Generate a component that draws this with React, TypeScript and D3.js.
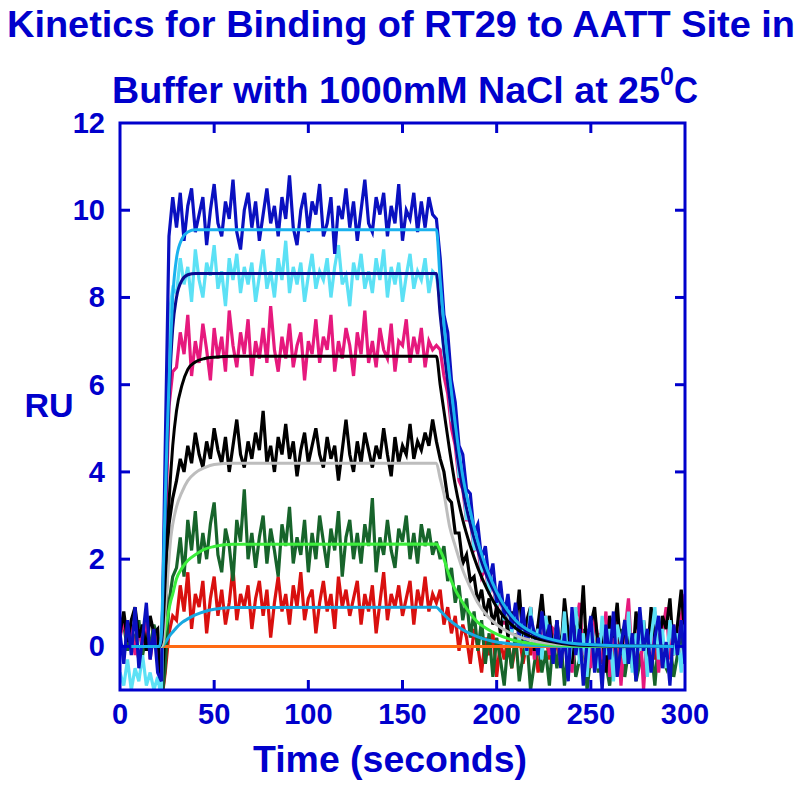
import React from "react";
import * as d3 from "d3";

// ---- Data (sampled every 2 s from t = 0 to 300) ----
const SAMPLE_STEP = 2;

const blueData = [
  0.3, -0.4, 0.6, -0.2, 0.9, -0.5, 0.2, 1.0, -0.3, 0.4, -0.6,
  -0.8, 4.5, 9.4, 10.3,
  9.6, 10.4, 9.3, 10.1, 10.5, 9.5, 9.9, 10.3, 9.2, 10.0,
  10.6, 9.7, 9.4, 10.2, 9.8, 10.7, 9.5, 9.1, 10.0, 10.4,
  9.6, 10.2, 9.3, 9.9, 10.5, 9.7, 10.1, 9.4, 10.3, 9.8,
  10.8, 9.6, 9.2, 10.0, 10.4, 9.5, 10.2, 9.9, 10.6, 9.4,
  9.7, 10.3, 9.0, 10.1, 9.8, 10.5, 9.6, 10.2, 9.3, 10.0,
  10.7, 9.7, 9.5, 10.3, 9.9, 10.4, 9.4, 10.1, 9.7, 10.6,
  9.3, 10.0, 9.8, 10.4, 9.5, 10.2, 9.6, 10.3, 9.9,
  9.8,
  8.9, 7.6, 7.2, 6.1, 5.6, 4.6, 4.4, 3.6, 3.5, 2.6,
  2.8, 2.0, 2.3, 1.5, 1.9, 1.0, 1.5, 0.7, 1.2, 0.4,
  1.0, 0.2, 0.9, -0.1, 0.7, 0.3, -0.2, 0.8, 0.0, 0.5, -0.4,
  0.6, -0.5, 0.3, -0.8, 0.9, -0.2, 0.4, -0.9, 0.1, 0.7,
  -0.6, 0.2, -1.0, 0.5, -0.3, 0.8, -0.7, 0.0, 0.6, -0.4,
  0.3, -0.8, 0.9, -0.1, 0.4, -0.6, 0.2, 0.7, -0.5, 0.1,
  -0.9, 0.5, -0.2, 0.6, -0.4,
];

const cyanData = [
  -0.6, -0.9, -0.3, -1.0, -0.5, -0.8, -0.2, -0.9, -0.6, -1.0, -0.7,
  -1.2, 3.5, 7.6, 8.2,
  8.1, 8.9, 8.3, 8.7, 7.9, 9.1, 8.4, 8.0, 8.8, 8.5,
  9.2, 8.2, 8.6, 7.8, 8.9, 8.4, 9.0, 8.1, 8.7, 8.3,
  8.8, 7.9, 8.5, 9.1, 8.2, 8.6, 8.0, 8.9, 8.4, 9.3,
  8.1, 8.7, 8.3, 8.8, 7.9, 8.5, 9.0, 8.2, 8.6, 8.4,
  8.9, 8.0, 8.7, 9.2, 8.3, 8.5, 7.8, 8.8, 8.4, 9.0,
  8.2, 8.6, 8.1, 8.9, 8.4, 9.1, 8.0, 8.7, 8.3, 8.8,
  7.9, 8.5, 9.0, 8.2, 8.6, 8.4, 8.9, 8.1, 8.6,
  8.5,
  7.9, 6.7, 6.4, 5.2, 5.0, 3.9, 3.9, 2.9, 3.1, 2.2,
  2.5, 1.7, 2.0, 1.2, 1.6, 0.9, 1.3, 0.6, 1.0, 0.3,
  0.8, 0.1, 0.6, -0.2, 0.9, 0.0, 0.4, -0.3, 0.7, 0.2, -0.1,
  0.5, -0.3, 0.8, -0.6, 0.2, 0.9, -0.4, 0.3, -0.7, 0.6,
  0.0, -0.5, 0.7, -0.2, 0.4, -0.8, 0.5, 0.1, -0.4, 0.8,
  -0.6, 0.3, -0.1, 0.6, -0.7, 0.2, 0.9, -0.3, 0.4, -0.5,
  0.6, -0.2, 0.3, -0.6, 0.5,
];

const pinkData = [
  0.2, 0.6, 0.1, 0.5, -0.2, 0.4, 0.0, 0.7, -0.3, 0.3, 0.1,
  -0.9, 2.5, 5.5, 6.3,
  6.4, 7.2, 6.7, 7.6, 6.2, 7.0, 6.5, 7.4, 6.8, 6.1,
  7.3, 6.6, 7.1, 6.3, 7.7, 6.9, 6.4, 7.2, 6.7, 7.5,
  6.2, 7.0, 6.6, 7.3, 6.5, 7.8, 6.8, 6.3, 7.1, 6.6,
  7.4, 6.4, 6.9, 7.2, 6.1, 7.0, 6.7, 7.5, 6.5, 7.1,
  6.8, 7.6, 6.3, 7.0, 6.6, 7.3, 6.9, 6.2, 7.2, 6.7,
  7.7, 6.5, 7.0, 6.4, 7.3, 6.8, 6.6, 7.4, 6.3, 7.0,
  6.9, 7.5, 6.5, 7.1, 6.7, 7.3, 6.4, 7.0, 6.8,
  6.9,
  6.8, 6.2, 5.8, 5.0, 4.6, 3.8, 3.6, 2.9, 2.9, 2.2,
  2.3, 1.6, 1.8, 1.2, 1.5, 0.8, 1.2, 0.5, 1.0, 0.3,
  0.8, 0.0, 0.6, 0.2, 0.9, -0.3, 0.5, 0.1, 0.7, -0.2, 0.4,
  0.3, -0.4, 0.9, 0.0, -0.6, 0.5, 1.0, -0.2, 0.4, -0.5,
  0.7, 0.1, -0.3, 0.8, -0.7, 0.2, 0.6, -0.9, 0.3, 1.1,
  -0.4, 0.0, 0.6, -1.0, 0.4, -0.2, 0.8, -0.6, 0.3, 0.9,
  -0.3, 0.5, -0.1, 0.7, 1.2,
];

const blackData = [
  0.3, 0.8, 0.1, 0.6, 0.9, 0.2, 0.5, -0.1, 0.7, 0.3, 0.4,
  -1.2, 0.5, 2.8, 3.4,
  3.8, 4.3, 4.0, 4.6, 4.2, 4.9, 4.4, 4.1, 4.7, 4.3,
  5.0, 4.5, 4.2, 4.8, 4.0, 4.6, 5.2, 4.4, 4.1, 4.7,
  4.3, 4.9, 4.5, 5.4, 4.2, 4.6, 4.0, 4.8, 4.4, 5.1,
  4.3, 4.7, 3.9, 4.5, 4.9, 4.2, 4.6, 5.0, 4.4, 4.1,
  4.8, 4.3, 4.6, 3.8, 4.5, 5.2, 4.4, 4.0, 4.7, 4.2,
  4.9, 4.5, 4.1, 4.6, 4.3, 5.0, 4.4, 3.9, 4.8, 4.2,
  4.6, 4.4, 5.1, 4.3, 4.7, 4.5, 4.9, 4.6, 5.2,
  4.7,
  4.3, 4.0, 3.4, 3.3, 2.6, 2.6, 1.9, 2.1, 1.5, 1.6,
  1.0, 1.3, 0.7, 1.1, 0.5, 0.9, 0.3, 1.0, 0.2, 0.8,
  0.4, 1.3, 0.1, 0.6, 0.9, -0.1, 0.5, 1.2, 0.2, 0.7, -0.2,
  0.6, -0.2, 1.1, 0.3, -0.4, 0.8, 0.1, 1.4, -0.3, 0.5,
  0.9, -0.1, 0.4, -0.6, 0.7, 0.2, 1.0, -0.2, 0.5, 0.3,
  -0.5, 0.8, 0.1, 0.6, -0.3, 0.9, 0.2, -0.1, 0.7, 0.4,
  1.1, -0.2, 0.5, 1.3, 0.2,
];

const greenData = [
  0.3, 0.5, -0.1, 0.4, 0.1, 0.6, -0.2, 0.3, 0.0, 0.5, 0.2,
  -1.3, -0.5, 1.0, 1.6,
  1.8, 2.5, 1.6, 2.9, 2.2, 3.1, 1.9, 2.6, 2.0, 2.8,
  3.3, 2.1, 1.7, 2.7, 2.3, 1.5, 2.9, 2.4, 3.6, 2.0,
  2.6, 1.8, 2.5, 3.0, 1.9, 2.7, 2.2, 1.6, 2.8, 2.3,
  3.2, 1.9, 2.5, 2.1, 2.9, 1.7, 2.6, 2.0, 3.0, 2.4,
  1.8, 2.7, 2.2, 3.1, 1.6, 2.5, 2.9, 2.0, 2.6, 1.9,
  2.8, 2.3, 3.4, 1.7, 2.5, 2.1, 2.9, 2.2, 1.8, 2.7,
  2.4, 3.0, 2.0, 2.6, 1.9, 2.8, 2.3, 2.7, 2.1,
  2.4,
  2.0, 2.3, 1.5, 1.8, 1.0, 1.4, 0.6, 1.1, 0.2, 0.8,
  -0.1, 0.6, -0.4, 0.3, -0.7, 0.2, -0.3, -0.9, 0.1, -0.5,
  0.3, -0.8, -0.2, 0.2, -1.0, -0.4, 0.1, -0.6, -0.1, -0.9, 0.2,
  -0.5, 0.2, -0.9, -0.1, 0.3, -0.7, -0.3, 0.4, -1.0, -0.2,
  0.1, -0.6, 0.3, -0.4, -0.9, 0.0, -0.3, 0.4, -0.7, -0.1,
  0.2, -0.8, -0.4, 0.3, -0.6, 0.0, -0.9, 0.2, -0.3, -0.5,
  0.1, -0.7, -0.2, 0.3, -0.4,
];

const redData = [
  0.1, -0.2, 0.3, 0.0, 0.2, -0.3, 0.1, 0.4, -0.1, 0.2, 0.0,
  -1.3, -0.6, 0.3, 0.7,
  0.6, 1.4, 0.8, 1.7, 0.4, 1.2, 0.9, 1.5, 0.3, 1.1,
  1.6, 0.7, 1.3, 0.5, 1.0, 1.8, 0.6, 1.2, 0.9, 1.4,
  0.4, 1.1, 1.5, 0.7, 1.3, 0.2, 1.0, 1.6, 0.8, 1.2,
  0.5, 1.4, 0.9, 1.7, 0.6, 1.1, 1.3, 0.3, 1.0, 1.5,
  0.8, 1.2, 0.4, 1.6, 0.9, 1.3, 0.7, 1.1, 1.5, 0.5,
  1.2, 0.8, 1.4, 0.3, 1.0, 1.7, 0.6, 1.2, 0.9, 1.4,
  0.7, 1.1, 1.5, 0.5, 1.3, 0.9, 1.6, 0.8, 1.2,
  1.0,
  1.3, 0.5, 0.9, 0.3, 0.7, -0.1, 0.5, 0.2, -0.4, 0.4,
  0.0, -0.6, 0.2, -0.2, 0.3, -0.7, 0.1, -0.3, 0.2, -0.5,
  0.0, 0.3, -0.4, 0.1, -0.2, 0.2, -0.6, 0.0, 0.3, -0.3, 0.1,
  0.0, -0.3, 0.2, -0.5, 0.1, 0.3, -0.2, 0.0, -0.6, 0.2,
  -0.1, 0.3, -0.4, 0.1, 0.0, -0.3, 0.2, -0.5, 0.1, -0.2,
  0.3, 0.0, -0.4, 0.2, -0.1, 0.1, -0.3, 0.2, 0.0, -0.2,
  0.3, -0.1, 0.1, -0.4, 0.0,
];

// ---- Fitted curves (time points and values) ----
const fitTimes = [6, 21, 22, 23, 24, 25, 26, 27, 28, 30, 33, 36, 40, 45, 50, 60, 168, 170, 172, 175, 178, 182, 186, 190, 195, 200, 210, 220, 230, 240, 260, 294];
const fitLightBlue = [0, 0, 0.3, 1.8, 3.3, 4.8, 6.0, 7.1, 8.0, 8.9, 9.35, 9.5, 9.55, 9.55, 9.55, 9.55, 9.55, 8.4, 7.4, 6.2, 5.1, 3.9, 3.1, 2.4, 1.75, 1.25, 0.6, 0.3, 0.15, 0.07, 0.02, 0];
const fitNavy = [0, 0, 0.2, 1.5, 3.0, 4.4, 5.6, 6.6, 7.3, 8.0, 8.4, 8.52, 8.55, 8.55, 8.55, 8.55, 8.55, 7.6, 6.8, 5.7, 4.7, 3.6, 2.8, 2.2, 1.6, 1.15, 0.55, 0.27, 0.13, 0.06, 0.02, 0];
const fitBlack = [0, 0, 0.1, 0.6, 1.5, 2.5, 3.3, 4.0, 4.6, 5.4, 6.0, 6.35, 6.52, 6.6, 6.63, 6.65, 6.65, 6.0, 5.4, 4.5, 3.7, 2.9, 2.3, 1.8, 1.3, 0.9, 0.42, 0.2, 0.1, 0.04, 0.01, 0];
const fitGray = [0, 0, 0, 0.1, 0.8, 1.4, 2.0, 2.5, 2.8, 3.2, 3.55, 3.8, 3.98, 4.1, 4.17, 4.2, 4.2, 3.85, 3.5, 2.75, 2.3, 1.75, 1.35, 1.0, 0.7, 0.5, 0.25, 0.12, 0.06, 0.03, 0.01, 0];
const fitGreen = [0, 0, 0, 0.05, 0.35, 0.6, 0.85, 1.05, 1.2, 1.55, 1.8, 1.97, 2.1, 2.23, 2.29, 2.34, 2.35, 2.2, 2.0, 1.6, 1.3, 1.0, 0.75, 0.55, 0.4, 0.28, 0.13, 0.06, 0.03, 0.01, 0, 0];
const fitSky = [0, 0, 0, 0.02, 0.09, 0.15, 0.22, 0.28, 0.33, 0.43, 0.55, 0.63, 0.72, 0.8, 0.85, 0.89, 0.9, 0.82, 0.73, 0.6, 0.5, 0.38, 0.29, 0.22, 0.15, 0.1, 0.05, 0.02, 0.01, 0, 0, 0];
const zeroTimes = [22, 294];
const zeroValues = [0, 0];

const xTicks = [0, 50, 100, 150, 200, 250, 300];
const yTicks = [0, 2, 4, 6, 8, 10, 12];

const BLUE = "#0000CC";
const FONT = "Arial, 'Liberation Sans', sans-serif";

export default function App() {
  const W = 800, H = 787;
  const left = 120, right = 685, top = 123, bottom = 690;
  const x = d3.scaleLinear().domain([0, 300]).range([left, right]);
  const y = d3.scaleLinear().domain([-1, 12]).range([bottom, top]);

  const dataLine = d3
    .line<number>()
    .x((_, i) => x(i * SAMPLE_STEP))
    .y((d) => y(d))
    .curve(d3.curveLinear);

  const fitLine = (ts: number[], vs: number[]) =>
    d3
      .line<number>()
      .x((_, i) => x(ts[i]))
      .y((d) => y(d))
      .curve(d3.curveMonotoneX)(vs) || "";

  const dataSeries = [
    { values: redData, color: "#D9100F" },
    { values: greenData, color: "#17642B" },
    { values: pinkData, color: "#E6197D" },
    { values: blackData, color: "#000000" },
    { values: cyanData, color: "#5CE1F5" },
    { values: blueData, color: "#0A10C0" },
  ];

  const fits = [
    { t: zeroTimes, v: zeroValues, color: "#FF6A13" },
    { t: fitTimes, v: fitSky, color: "#18A8E0" },
    { t: fitTimes, v: fitGreen, color: "#3CEE3C" },
    { t: fitTimes, v: fitGray, color: "#BDBDBD" },
    { t: fitTimes, v: fitBlack, color: "#000000" },
    { t: fitTimes, v: fitNavy, color: "#0A0A90" },
    { t: fitTimes, v: fitLightBlue, color: "#1AB2EE" },
  ];

  const tickLen = 10;

  return (
    <svg
      width={W}
      height={H}
      style={{ position: "absolute", left: 0, top: 0, background: "#fff" }}
      fontFamily={FONT}
      fontWeight="bold"
    >
      <defs>
        <clipPath id="plotClip">
          <rect x={left} y={top} width={right - left} height={bottom - top} />
        </clipPath>
      </defs>
      <rect x={0} y={0} width={W} height={H} fill="#fff" />

      {/* Title */}
      <text x={7} y={37} fontSize={36} fill={BLUE} textLength={788} lengthAdjust="spacingAndGlyphs">
        Kinetics for Binding of RT29 to AATT Site in
      </text>
      <text x={112} y={103} fontSize={36} fill={BLUE} textLength={548} lengthAdjust="spacingAndGlyphs">
        Buffer with 1000mM NaCl at 25
      </text>
      <text x={660} y={85} fontSize={25} fill={BLUE}>0</text>
      <text x={674} y={103} fontSize={36} fill={BLUE} textLength={24} lengthAdjust="spacingAndGlyphs">C</text>

      {/* Data */}
      <g clipPath="url(#plotClip)">
        {dataSeries.map((s, k) => (
          <path
            key={"d" + k}
            d={dataLine(s.values) || ""}
            fill="none"
            stroke={s.color}
            strokeWidth={3.2}
            strokeLinejoin="miter"
          />
        ))}
        {fits.map((f, k) => (
          <path
            key={"f" + k}
            d={fitLine(f.t, f.v)}
            fill="none"
            stroke={f.color}
            strokeWidth={3}
          />
        ))}
      </g>

      {/* Frame */}
      <rect x={left} y={top} width={right - left} height={bottom - top} fill="none" stroke={BLUE} strokeWidth={3} />

      {/* X ticks */}
      {xTicks.map((t) => (
        <g key={"xt" + t}>
          {t > 0 && t < 300 && (
            <>
              <line x1={x(t)} x2={x(t)} y1={bottom} y2={bottom - tickLen} stroke={BLUE} strokeWidth={3} />
              <line x1={x(t)} x2={x(t)} y1={top} y2={top + tickLen} stroke={BLUE} strokeWidth={3} />
            </>
          )}
          <text x={x(t)} y={724} fontSize={29} fill={BLUE} textAnchor="middle">
            {t}
          </text>
        </g>
      ))}

      {/* Y ticks */}
      {yTicks.map((v) => (
        <g key={"yt" + v}>
          {v < 12 && (
            <>
              <line x1={left} x2={left + tickLen} y1={y(v)} y2={y(v)} stroke={BLUE} strokeWidth={3} />
              <line x1={right} x2={right - tickLen} y1={y(v)} y2={y(v)} stroke={BLUE} strokeWidth={3} />
            </>
          )}
          <text x={105} y={y(v) + 10} fontSize={29} fill={BLUE} textAnchor="end">
            {v}
          </text>
        </g>
      ))}

      {/* Axis titles */}
      <text x={49} y={417} fontSize={34} fill={BLUE} textAnchor="middle">RU</text>
      <text x={390} y={772} fontSize={36} fill={BLUE} textAnchor="middle" textLength={274} lengthAdjust="spacingAndGlyphs">
        Time (seconds)
      </text>
    </svg>
  );
}
